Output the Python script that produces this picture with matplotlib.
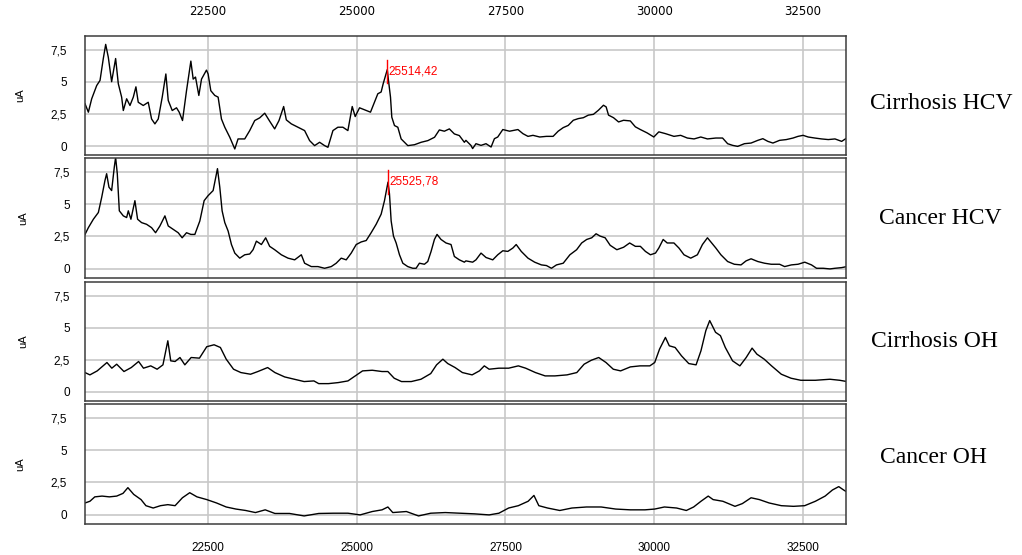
import matplotlib
matplotlib.use("Agg")
import matplotlib.pyplot as plt

# m/z (Da) and intensity (uA)
cirr_hcv_x = [20436, 20492, 20548, 20632, 20688, 20743, 20783, 20827, 20883, 20950,
              20995, 21051, 21079, 21135, 21191, 21247, 21291, 21330, 21414, 21498,
              21554, 21610, 21666, 21733, 21794, 21834, 21901, 21973, 22018, 22074,
              22141, 22214, 22253, 22292, 22348, 22393, 22476, 22504, 22549, 22616,
              22672, 22728, 22784, 22868, 22952, 23007, 23119, 23203, 23287, 23371,
              23455, 23538, 23622, 23695, 23773, 23818, 23902, 24014, 24125, 24209,
              24293, 24377, 24461, 24517, 24601, 24684, 24768, 24852, 24925, 24975,
              25048, 25160, 25232, 25299, 25355, 25411, 25445, 25514, 25534, 25568,
              25590, 25635, 25691, 25747, 25859, 25971, 26083, 26196, 26308, 26389,
              26473, 26557, 26641, 26725, 26809,
              26835, 26919, 26948, 27004, 27089, 27173, 27258, 27314, 27370, 27455,
              27568, 27709, 27793, 27878, 27962, 28075, 28188, 28300, 28385, 28470,
              28554, 28639, 28723, 28808, 28892, 28977, 29061, 29146, 29191, 29231,
              29315, 29400, 29484, 29597, 29682, 29766, 29879, 29992, 30076, 30189,
              30330, 30443, 30555, 30668, 30781, 30893, 31034, 31147, 31232, 31316,
              31401, 31514, 31626, 31739, 31824, 31908, 31993, 32105, 32218, 32331,
              32415, 32500, 32585, 32697, 32810, 32923, 33036, 33148, 33233]
cirr_hcv_y = [3.28, 2.63, 3.67, 4.7, 5.1, 6.8, 7.9, 6.9, 5.0, 6.8,
              4.84, 3.8, 2.76, 3.67, 3.15, 3.8, 4.6, 3.4, 3.15, 3.4,
              2.1, 1.72, 2.1, 3.8, 5.6, 3.54, 2.76, 2.97, 2.63, 1.98,
              4.3, 6.6, 5.2, 5.36, 3.93, 5.2, 5.9, 5.6, 4.3, 3.93,
              3.8, 2.1, 1.46, 0.68, -0.23, 0.55, 0.55, 1.2, 1.98, 2.19,
              2.55, 1.93, 1.33, 1.98, 3.07, 2.03, 1.72, 1.46, 1.2, 0.42,
              0.03, 0.29, 0.03, -0.1, 1.2, 1.46, 1.46, 1.2, 3.07, 2.29,
              2.97, 2.76, 2.63, 3.4, 4.06, 4.2, 4.84, 5.94, 5.1, 3.8,
              2.24, 1.59, 1.46, 0.55, 0.03, 0.1, 0.29, 0.42, 0.68, 1.25,
              1.15, 1.33, 0.94, 0.81, 0.29,
              0.44, 0.05, -0.2, 0.18, 0.05, 0.18, -0.08, 0.57, 0.7, 1.28,
              1.15, 1.28, 0.96, 0.75, 0.83, 0.7, 0.75, 0.75, 1.15, 1.43,
              1.6, 2.0, 2.13, 2.2, 2.4, 2.46, 2.78, 3.17, 3.04, 2.4,
              2.2, 1.87, 2.0, 1.95, 1.49, 1.28, 1.02, 0.7, 1.1, 0.96,
              0.75, 0.83, 0.62, 0.55, 0.7, 0.55, 0.62, 0.62, 0.18, 0.05,
              -0.03, 0.18, 0.23, 0.44, 0.57, 0.36, 0.23, 0.44, 0.5, 0.62,
              0.75, 0.83, 0.7, 0.62, 0.55, 0.5, 0.55, 0.36, 0.62]

canc_hcv_x = [20436, 20492, 20576, 20660, 20716, 20771, 20799, 20838, 20883, 20928,
              20950, 20978, 21012, 21079, 21135, 21163, 21207, 21274, 21319, 21386,
              21470, 21554, 21621, 21694, 21778, 21834, 21917, 22001, 22068, 22141,
              22214, 22281, 22365, 22437, 22504, 22588, 22661, 22700, 22739, 22784,
              22840, 22896, 22952, 23035, 23119, 23203, 23259, 23315, 23399, 23471,
              23538, 23622, 23734, 23846, 23958, 24070, 24125, 24237, 24349, 24461,
              24573, 24656, 24740, 24824, 24908, 24992, 25076, 25160, 25243, 25327,
              25411, 25467, 25526, 25551, 25579, 25618, 25663, 25719, 25775, 25858,
              25942, 25998, 26054, 26138, 26194, 26250, 26306, 26350, 26417, 26501,
              26585, 26641, 26725, 26809,
              26835, 26948, 27004, 27089, 27173, 27286, 27370, 27455, 27539, 27624,
              27680, 27765, 27878, 27990, 28103, 28188, 28272, 28357, 28470, 28582,
              28695, 28780, 28864, 28949, 29022, 29090, 29174, 29259, 29371, 29484,
              29586, 29682, 29766, 29851, 29935, 30020, 30076, 30149, 30217, 30330,
              30414, 30499, 30612, 30724, 30809, 30893, 30950, 31034, 31119, 31232,
              31344, 31457, 31542, 31626, 31739, 31852, 31964, 32105, 32190, 32303,
              32415, 32528, 32641, 32726, 32838, 32951, 33036, 33148, 33233]
canc_hcv_y = [2.66, 3.18, 3.83, 4.35, 5.52, 6.82, 7.34, 6.3, 6.04, 7.86,
              8.6, 7.34, 4.48, 4.09, 3.96, 4.48, 3.83, 5.26, 3.83, 3.57,
              3.44, 3.18, 2.79, 3.31, 4.09, 3.31, 3.05, 2.79, 2.4, 2.79,
              2.66, 2.66, 3.7, 5.26, 5.65, 6.04, 7.73, 6.3, 4.48, 3.57,
              2.92, 1.88, 1.22, 0.83, 1.09, 1.15, 1.48, 2.14, 1.88, 2.4,
              1.74, 1.48, 1.09, 0.83, 0.7, 1.09, 0.44, 0.18, 0.18, 0.05,
              0.18, 0.44, 0.83, 0.7, 1.22, 1.88, 2.08, 2.19, 2.79, 3.44,
              4.22, 5.26, 6.69, 5.78, 3.7, 2.53, 2.0, 1.09, 0.44, 0.18,
              0.05, 0.05, 0.44, 0.36, 0.57, 1.35, 2.27, 2.66, 2.27, 2.0,
              1.88, 0.96, 0.7, 0.52,
              0.62, 0.52, 0.7, 1.22, 0.88, 0.7, 1.09, 1.4, 1.35, 1.61,
              1.88, 1.35, 0.83, 0.52, 0.31, 0.26, 0.05, 0.31, 0.44, 1.09,
              1.48, 2.0, 2.27, 2.4, 2.71, 2.53, 2.4, 1.82, 1.48, 1.67,
              2.0, 1.74, 1.74, 1.35, 1.09, 1.22, 1.61, 2.27, 2.0, 2.0,
              1.61, 1.09, 0.83, 1.09, 1.88, 2.4, 2.08, 1.61, 1.09, 0.57,
              0.36, 0.31, 0.62, 0.78, 0.57, 0.44, 0.36, 0.36, 0.18, 0.31,
              0.36, 0.52, 0.31, 0.05, 0.05, 0.0, 0.05, 0.1, 0.18]

cirr_oh_x = [20436, 20518, 20641, 20804, 20886, 20968, 21090, 21213, 21336, 21418,
             21540, 21647, 21745, 21827, 21876, 21949, 22031, 22113, 22219, 22358,
             22481, 22604, 22710, 22808, 22931, 23054, 23217, 23340, 23504, 23626,
             23790, 23953, 24117, 24281, 24362, 24526, 24690, 24853, 24976, 25099,
             25262, 25426, 25524, 25630, 25753, 25917, 26080, 26244, 26342, 26448,
             26530, 26653, 26776, 26939, 27062, 27144, 27225, 27389, 27553, 27716,
             27839, 28003, 28166, 28330, 28534, 28698, 28821, 28943, 29066, 29189,
             29311, 29434, 29598, 29761, 29925, 30007, 30088, 30187, 30252, 30350,
             30457, 30579, 30702, 30784, 30866, 30931, 31029, 31111, 31193, 31315,
             31438, 31544, 31643, 31724, 31847, 31970, 32134, 32297, 32461, 32706,
             32951, 33115, 33238]
cirr_oh_y = [1.51, 1.33, 1.64, 2.29, 1.85, 2.16, 1.59, 1.9, 2.37, 1.85,
             2.03, 1.77, 2.11, 3.98, 2.42, 2.37, 2.68, 2.11, 2.68, 2.63,
             3.52, 3.67, 3.46, 2.55, 1.77, 1.51, 1.38, 1.59, 1.9, 1.51,
             1.17, 0.99, 0.81, 0.86, 0.65, 0.65, 0.73, 0.86, 1.25, 1.64,
             1.69, 1.59, 1.59, 1.07, 0.81, 0.81, 0.99, 1.43, 2.11, 2.55,
             2.21, 1.9, 1.51, 1.33, 1.64, 2.03, 1.77, 1.85, 1.85, 2.03,
             1.85, 1.51, 1.25, 1.25, 1.33, 1.51, 2.16, 2.47, 2.68, 2.29,
             1.77, 1.64, 1.95, 2.03, 2.03, 2.29, 3.33, 4.24, 3.59, 3.46,
             2.81, 2.21, 2.11, 3.2, 4.77, 5.55, 4.64, 4.38, 3.46, 2.42,
             2.03, 2.68, 3.41, 2.94, 2.55, 2.03, 1.38, 1.07, 0.91, 0.91,
             0.99, 0.91, 0.81]

canc_oh_x = [20436, 20518, 20600, 20722, 20845, 20968, 21074, 21156, 21254, 21377,
             21459, 21581, 21704, 21827, 21949, 22072, 22195, 22317, 22481, 22645,
             22808, 22972, 23135, 23299, 23463, 23626, 23872, 24117, 24362, 24608,
             24853, 25058, 25262, 25426, 25524, 25606, 25835, 26039, 26244, 26489,
             26735, 26980, 27225, 27389, 27553, 27716, 27880, 27978, 28060, 28207,
             28412, 28616, 28861, 29107, 29352, 29598, 29843, 30007, 30170, 30375,
             30538, 30661, 30784, 30906, 30988, 31152, 31356, 31479, 31626, 31765,
             31929, 32134, 32338, 32526, 32706, 32870, 32993, 33099, 33181, 33238]
canc_oh_y = [0.92, 1.05, 1.39, 1.45, 1.39, 1.45, 1.66, 2.1, 1.58, 1.18,
             0.71, 0.53, 0.71, 0.79, 0.71, 1.32, 1.71, 1.39, 1.18, 0.92,
             0.61, 0.45, 0.34, 0.18, 0.39, 0.11, 0.11, -0.08, 0.11, 0.13,
             0.13, 0.0, 0.26, 0.39, 0.61, 0.18, 0.26, -0.08, 0.13, 0.18,
             0.13, 0.08, 0.0, 0.13, 0.53, 0.71, 1.05, 1.5, 0.71, 0.53,
             0.34, 0.53, 0.61, 0.61, 0.45, 0.39, 0.39, 0.45, 0.61, 0.53,
             0.34, 0.61, 1.05, 1.45, 1.18, 1.05, 0.66, 0.87, 1.32, 1.18,
             0.92, 0.71, 0.66, 0.71, 1.05, 1.45, 1.92, 2.18, 1.92, 1.76]

group_names = ["Cirrhosis HCV", "Cancer HCV", "Cirrhosis OH", "Cancer OH"]
series = [(cirr_hcv_x, cirr_hcv_y), (canc_hcv_x, canc_hcv_y),
          (cirr_oh_x, cirr_oh_y), (canc_oh_x, canc_oh_y)]

# marked peaks: (panel index, m/z, line bottom, line top)
peak_marks = [(0, 25514.42, 4.9, 6.65), (1, 25525.78, 5.8, 7.6)]

x_ticks = [22500, 25000, 27500, 30000, 32500]
y_ticks = [0, 2.5, 5, 7.5]
y_tick_labels = ["0", "2,5", "5", "7,5"]

fig = plt.figure(figsize=(10.22, 5.55), dpi=100)

# panel rectangles in figure fractions
bottoms = [0.7207, 0.4991, 0.2775, 0.0559]
heights = [0.2144, 0.2162, 0.2144, 0.2162]
label_x = [0.921, 0.920, 0.914, 0.913]
label_y = [0.814, 0.607, 0.384, 0.175]

for i, (xs, ys) in enumerate(series):
    ax = fig.add_axes([0.0832, bottoms[i], 0.7446, heights[i]])
    ax.plot(xs, ys, color="black", lw=1.0)
    ax.set_xlim(20436, 33221)
    ax.set_ylim(-0.7, 8.55)

    ax.set_xticks(x_ticks)
    ax.set_yticks(y_ticks)
    ax.set_yticklabels(y_tick_labels)
    ax.grid(True, color="#c8c8c8", lw=1.2)
    ax.set_axisbelow(True)
    ax.tick_params(length=0, labelsize=8.5, pad=11)
    for lbl in ax.get_xticklabels() + ax.get_yticklabels():
        lbl.set_fontfamily("Liberation Sans")

    if i == 0:
        ax.tick_params(labeltop=True, labelbottom=False, pad=13)
    elif i == 3:
        ax.tick_params(labelbottom=True, pad=13)
    else:
        ax.tick_params(labelbottom=False)

    for sp in ax.spines.values():
        sp.set_color("#3c3c3c")
        sp.set_linewidth(1.1)

    ax.set_ylabel("uA", fontsize=8, family="Liberation Sans", labelpad=18)

    fig.text(label_x[i], label_y[i], group_names[i],
             family="Liberation Serif", fontsize=17, ha="center", va="center")

    for p, mz, lo, hi in peak_marks:
        if p == i:
            ax.plot([mz, mz], [lo, hi], color="red", lw=1.0)
            ax.text(mz + 25, (lo + hi) / 2 + 0.05, f"{mz:.2f}".replace(".", ","),
                    color="red", fontsize=8.5, family="Liberation Sans",
                    va="center", ha="left")

fig.savefig("out.png", dpi=100)
